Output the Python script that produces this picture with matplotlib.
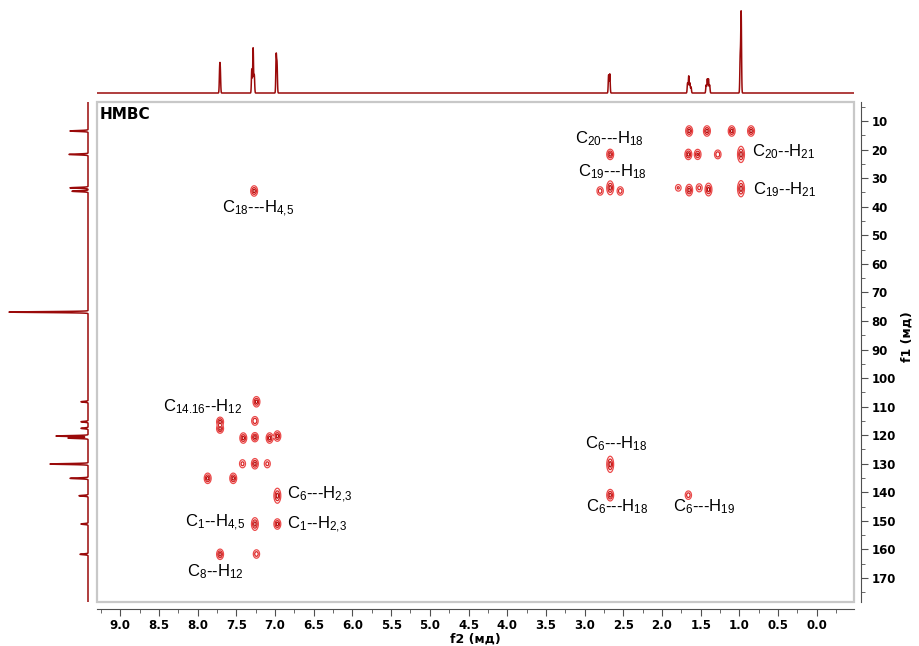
import numpy as np
import matplotlib
matplotlib.use("Agg")
import matplotlib.pyplot as plt
from matplotlib.patches import Rectangle
from matplotlib.ticker import MultipleLocator

plt.rcParams["mathtext.default"] = "regular"
plt.rcParams["path.simplify"] = False

# 1H projection (top): shift (ppm), intensity
h_shift = [7.715, 7.707, 7.300, 7.283, 7.268, 6.985, 6.974, 2.690, 2.675,
           1.670, 1.655, 1.640, 1.625, 1.430, 1.415, 1.400, 1.385, 0.990, 0.978]
h_int = [22, 20, 24, 45, 18, 37, 28, 18, 19,
         10, 17, 10, 6, 8, 14, 14, 8, 36, 80]

# 13C projection (left): shift (ppm), intensity
c_shift = [13.5, 21.7, 33.4, 34.6, 76.9, 108.3, 115.3, 117.6, 120.3, 121.0,
           130.1, 135.1, 141.2, 151.1, 161.7]
c_int = [18, 19, 18, 16, 79, 7, 7, 7, 32, 20, 38, 18, 9, 7, 8]

# HMBC cross peaks: 1H shift, 13C shift, amplitude, vertical spread
cp_h = [7.24, 7.71, 7.71, 7.26, 7.41, 7.26, 7.07, 6.97, 7.42, 7.26, 7.10,
        7.87, 7.54, 6.97, 7.26, 6.97, 7.71, 7.24, 7.27,
        1.65, 1.42, 1.10, 0.85,
        2.67, 1.66, 1.54, 1.28, 0.98,
        2.80, 2.67, 2.54, 1.79, 1.65, 1.52, 1.40, 0.98,
        2.67, 2.67, 1.66]
cp_c = [108.3, 115.3, 117.7, 115.0, 121.0, 120.7, 121.0, 120.3, 130.0, 130.0, 130.0,
        135.1, 135.1, 141.2, 151.1, 151.1, 161.7, 161.6, 34.5,
        13.5, 13.5, 13.5, 13.5,
        21.7, 21.7, 21.7, 21.7, 21.7,
        34.5, 33.4, 34.5, 33.4, 34.2, 33.4, 34.0, 33.7,
        130.2, 141.0, 141.0]
cp_amp = [1, 1, 1, 0.8, 1, 1, 1, 1, 0.6, 1, 0.6,
          1, 1, 1, 1, 1, 1, 0.7, 1,
          1, 1, 1, 1,
          1, 1, 0.9, 0.8, 1,
          0.7, 1, 0.7, 0.5, 1, 0.6, 1, 1,
          1, 1, 0.7]
cp_spread = [0.9, 0.8, 0.8, 0.8, 0.9, 0.8, 0.9, 0.9, 0.8, 0.9, 0.8,
             0.9, 0.9, 1.3, 1.1, 0.9, 0.9, 0.8, 0.9,
             0.9, 0.9, 0.9, 0.9,
             0.9, 0.9, 0.9, 0.8, 1.4,
             0.8, 1.2, 0.8, 0.7, 1.0, 0.8, 1.1, 1.4,
             1.4, 1.0, 0.8]

labels = ["$C_{14.16}$--$H_{12}$", "$C_{6}$---$H_{2{,}3}$", "$C_{1}$--$H_{4{,}5}$",
          "$C_{1}$--$H_{2{,}3}$", "$C_{8}$--$H_{12}$", "$C_{18}$---$H_{4{,}5}$",
          "$C_{20}$---$H_{18}$", "$C_{20}$--$H_{21}$", "$C_{19}$---$H_{18}$",
          "$C_{19}$--$H_{21}$", "$C_{6}$---$H_{18}$", "$C_{6}$---$H_{18}$",
          "$C_{6}$---$H_{19}$"]
label_xy = [(8.445, 110.0), (6.85, 141.0), (8.16, 150.8), (6.85, 151.5),
            (8.14, 167.8), (7.68, 40.8), (3.125, 16.1), (0.843, 20.8),
            (3.08, 27.8), (0.83, 34.2), (3.0, 122.9), (2.98, 145.0), (1.855, 145.0)]

xlim = (9.30, -0.48)
ylim = (178.4, 3.35)

fig = plt.figure(figsize=(9.2, 6.46), dpi=100)
L, R, T, B = 97 / 920, 854 / 920, 1 - 102 / 646, 1 - 602 / 646
ax = fig.add_axes([L, B, R - L, T - B])

# cross peaks as contours
gx = np.linspace(-0.5, 9.32, 2400)
gy = np.linspace(3.0, 179.0, 1100)
Z = np.zeros((gy.size, gx.size))
for h, c, a, s in zip(cp_h, cp_c, cp_amp, cp_spread):
    Z += a * np.outer(np.exp(-0.5 * ((gy - c) / s) ** 2),
                      np.exp(-0.5 * ((gx - h) / 0.022) ** 2))
ax.contour(gx, gy, Z, levels=[0.13, 0.42, 0.8],
           colors=["#ec4a4a", "#d82424", "#b80e0e"],
           linewidths=0.9)

for txt, (x, y) in zip(labels, label_xy):
    ax.text(x, y, txt, ha="left", va="center", fontsize=12,
            family="Liberation Sans", color="black")
ax.text(0.004, 0.975, "HMBC", transform=ax.transAxes, ha="left", va="center",
        fontsize=11, fontweight="bold", family="DejaVu Sans")

ax.set_xlim(xlim)
ax.set_ylim(ylim)
ax.add_patch(Rectangle((0, 0), 1, 1, transform=ax.transAxes, fill=False,
                       edgecolor="#c8c8c8", lw=1.6, zorder=5, clip_on=False))
for s in ["top", "left"]:
    ax.spines[s].set_visible(False)
for s in ["right", "bottom"]:
    ax.spines[s].set_position(("outward", 5))
    ax.spines[s].set_color("#505050")
ax.yaxis.tick_right()
ax.yaxis.set_label_position("right")
ax.xaxis.set_minor_locator(MultipleLocator(0.25))
ax.yaxis.set_minor_locator(MultipleLocator(5))
ax.set_xticks(np.arange(0, 9.01, 0.5))
ax.set_yticks(np.arange(10, 171, 10))
ax.tick_params(which="major", length=5, color="#505050", labelsize=8.5, pad=2.5)
ax.tick_params(which="minor", length=3, color="#505050")
for lab in ax.get_xticklabels() + ax.get_yticklabels():
    lab.set_fontweight("bold")
ax.set_xlabel("f2 (мд)", fontsize=9, fontweight="bold", labelpad=0)
ax.set_ylabel("f1 (мд)", fontsize=9, fontweight="bold")
ax.xaxis.set_label_coords(0.5, -0.062)
ax.yaxis.set_label_coords(1.062, 0.53)

# top 1H projection
axt = fig.add_axes([L, 1 - 97 / 646, R - L, 91 / 646])
hx = np.linspace(-0.48, 9.30, 10000)
hy = np.zeros_like(hx)
for p, i in zip(h_shift, h_int):
    hy += i * np.exp(-0.5 * ((hx - p) / 0.005) ** 2)
axt.plot(hx, hy, color="#9a0a0a", lw=1.1)
axt.set_xlim(xlim)
axt.set_ylim(-4, 87)
axt.axis("off")

# left 13C projection
axl = fig.add_axes([5 / 920, B, 87 / 920, T - B])
cy = np.linspace(3.35, 178.4, 8000)
cx = np.zeros_like(cy)
for p, i in zip(c_shift, c_int):
    cx += i * np.exp(-0.5 * ((cy - p) / 0.15) ** 2)
axl.plot(cx, cy, color="#9a0a0a", lw=1.1)
axl.set_xlim(83, -4)
axl.set_ylim(ylim)
axl.axis("off")

fig.savefig("out.png", dpi=100)
